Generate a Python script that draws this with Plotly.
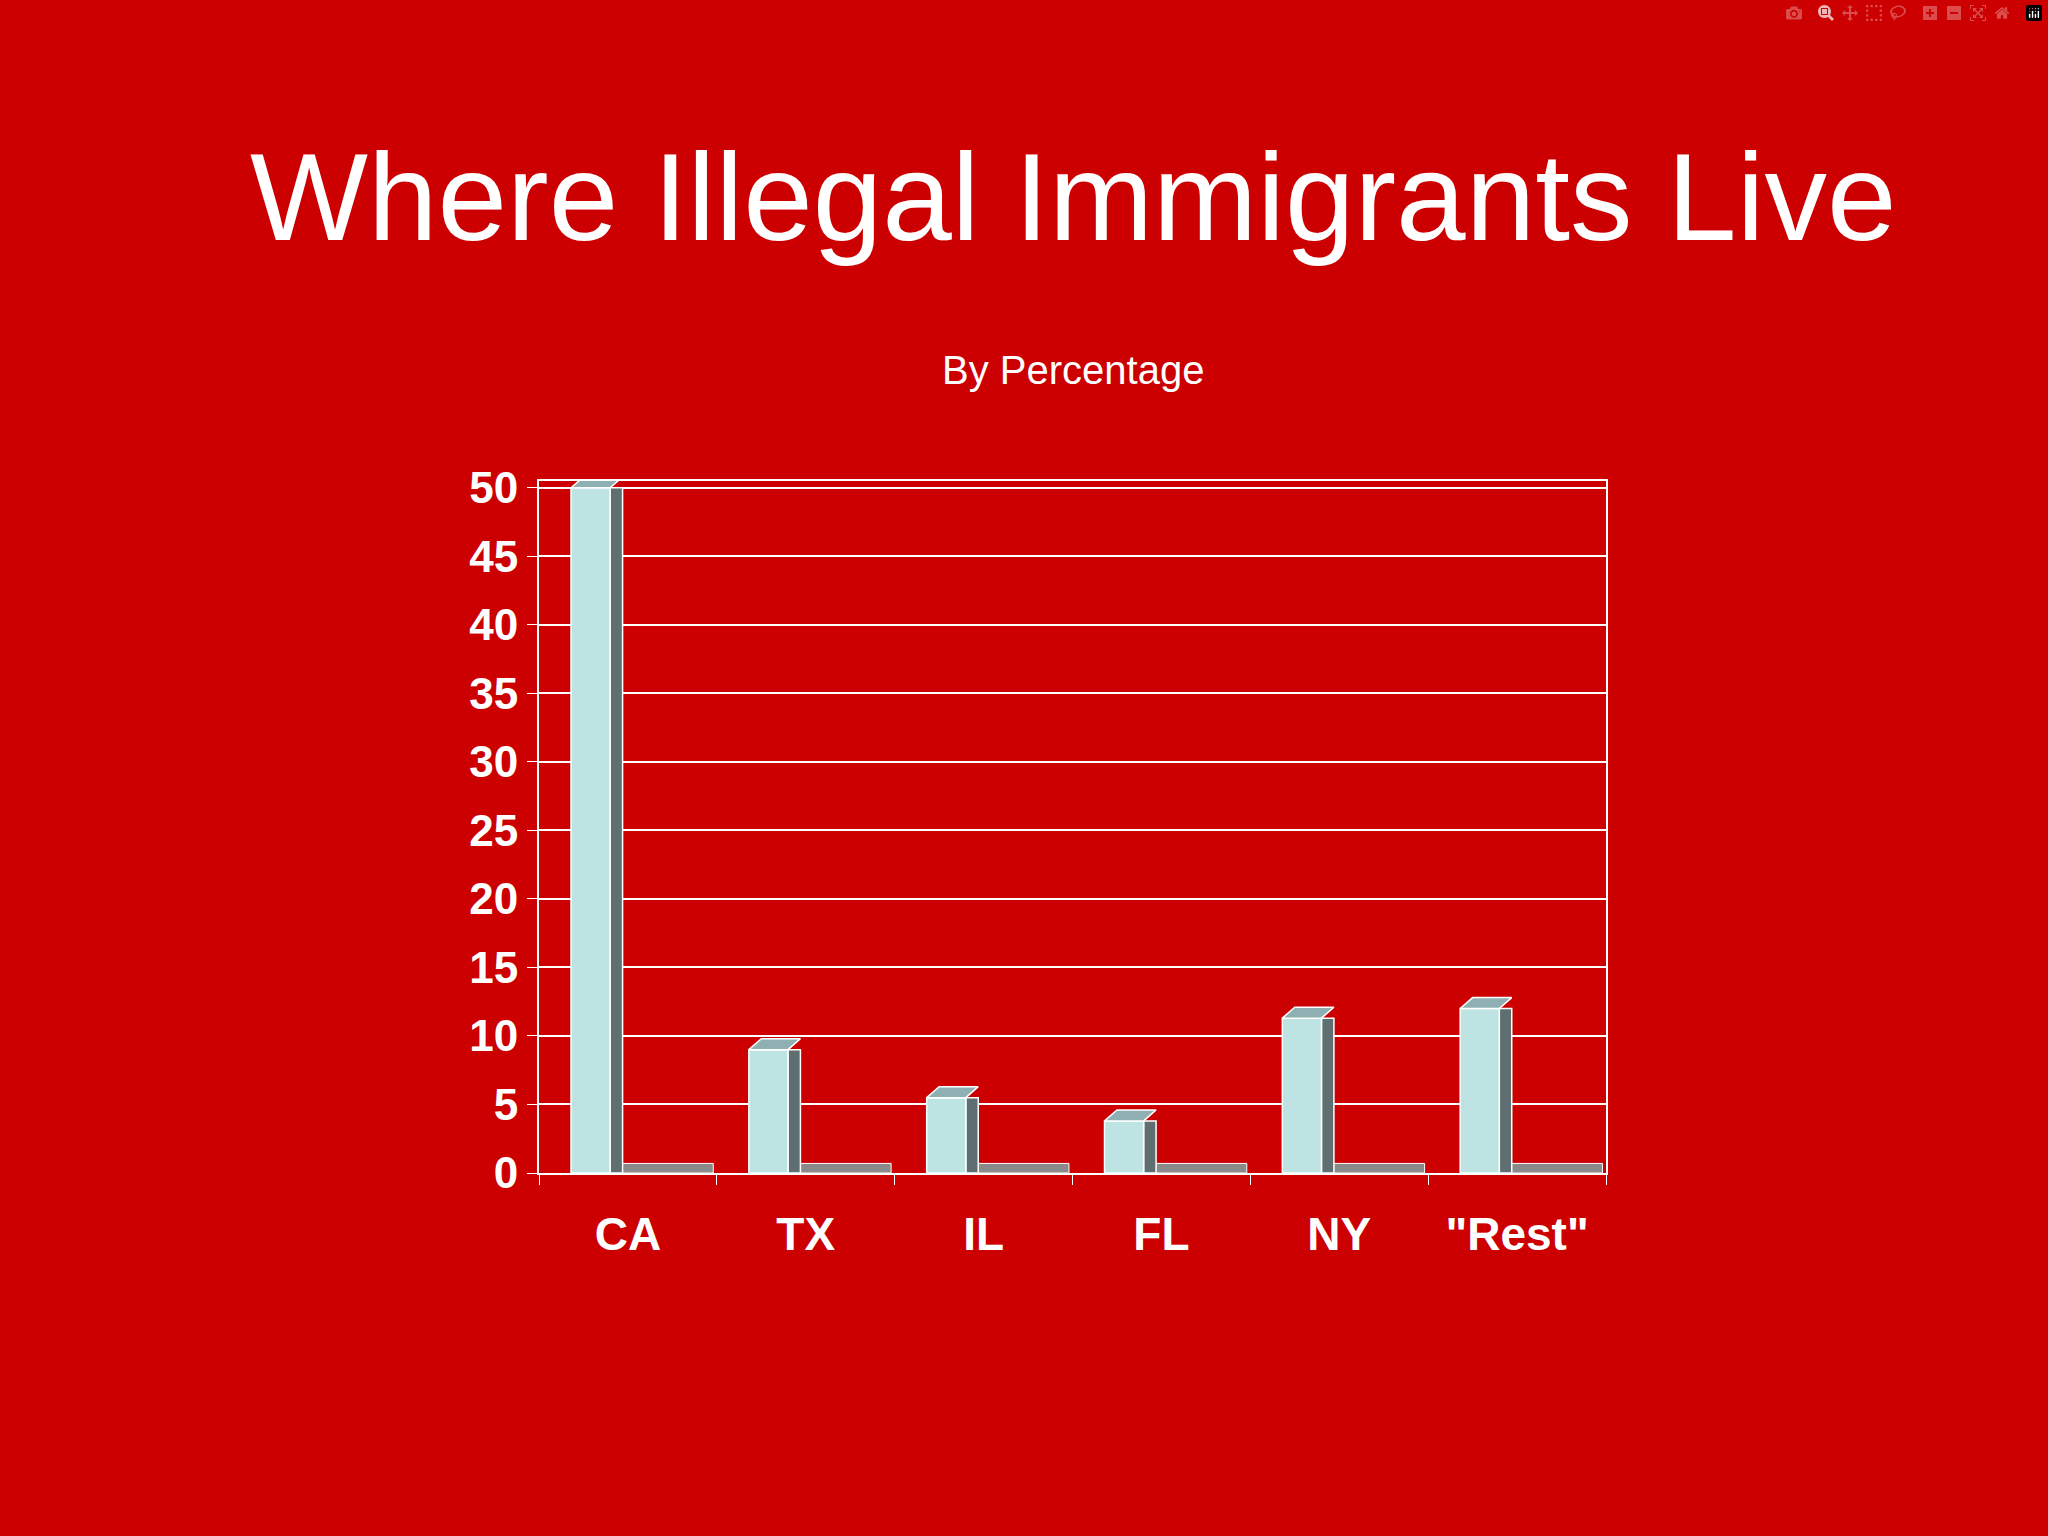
import plotly.graph_objects as go

states = ["CA", "TX", "IL", "FL", "NY", "\"Rest\""]
percent = [50, 9, 5.5, 3.8, 11.3, 12]
y_ticks = [0, 5, 10, 15, 20, 25, 30, 35, 40, 45, 50]

xpos = list(range(len(states)))
fig = go.Figure()
fig.add_bar(x=xpos, y=[0.7]*len(states), offset=0.40, width=0.58, marker=dict(color="#8a8a8a", line=dict(color="white", width=1)), hoverinfo="skip")
fig.add_bar(x=xpos, y=percent, offset=0.40, width=0.07, marker=dict(color="#5f6e70", line=dict(color="white", width=1.5)), hoverinfo="skip")
fig.add_bar(x=xpos, y=percent, offset=0.18, width=0.22, marker=dict(color="#bde3e3", line=dict(color="white", width=1.5)))
for i, v in enumerate(percent):
    fig.add_trace(go.Scatter(x=[i+0.18, i+0.40, i+0.47, i+0.25, i+0.18], y=[v, v, v+0.8, v+0.8, v],
                             fill="toself", fillcolor="#8fb0b3", mode="lines", line=dict(color="white", width=1.5), hoverinfo="skip"))

fig.update_layout(
    barmode="overlay", showlegend=False,
    width=2048, height=1536, paper_bgcolor="#CC0000", plot_bgcolor="#CC0000",
    margin=dict(l=539, r=442, t=481, b=363),
    font=dict(family="Liberation Sans, Arial", color="white"),
    xaxis=dict(range=[0, 6], tickvals=[i+0.5 for i in xpos], ticktext=states, showgrid=False,
               tickfont=dict(size=46, family="Liberation Sans, Arial", weight="bold"), ticks="", zeroline=False,
               showline=True, linecolor="white", linewidth=2, mirror=True,
               minor=dict(tickvals=list(range(7)), ticks="outside", ticklen=10, tickcolor="white", showgrid=False)),
    yaxis=dict(range=[0, 50.5], tickvals=y_ticks, showgrid=True, gridcolor="white", gridwidth=1.5,
               tickfont=dict(size=44, family="Liberation Sans, Arial", weight="bold"), ticks="outside",
               tickcolor="white", ticklen=10, showline=True, linecolor="white", linewidth=2, zeroline=False,
               mirror=True),
    annotations=[
        dict(text="Where Illegal Immigrants Live", x=0.5, y=196, xref="paper", yref="paper", showarrow=False,
             font=dict(size=125, color="white"), yanchor="middle"),
        dict(text="By Percentage", x=0.5, y=370, xref="paper", yref="paper", showarrow=False,
             font=dict(size=40, color="white"), yanchor="middle"),
    ],
)
ph = 1536 - 481 - 363
for a in fig.layout.annotations:
    a.y = (1536 - 363 - a.y) / ph
fig.update_xaxes(ticklabelstandoff=20)
fig.write_html("out.html", post_script="document.body.style.margin='0';")
